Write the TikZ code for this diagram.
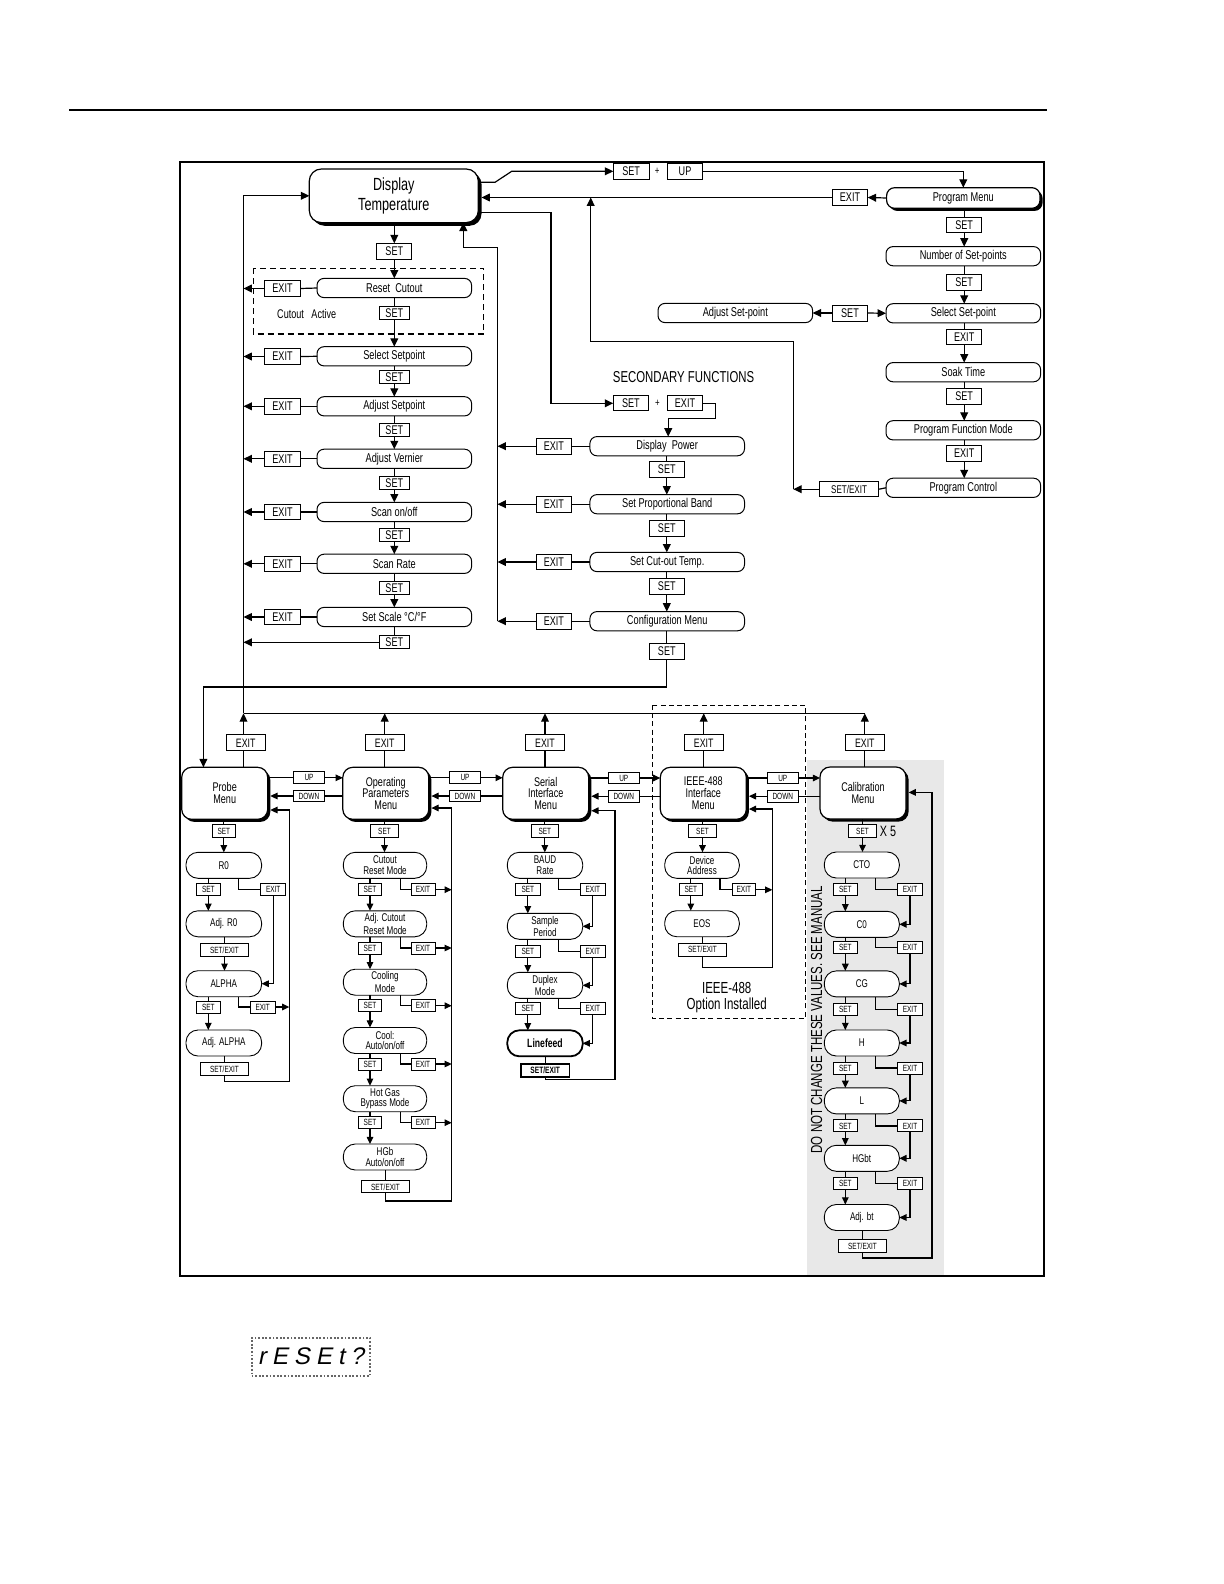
\documentclass[tikz,border=0pt]{standalone}
\usepackage{fontspec}
\setmainfont{Liberation Sans}[FakeStretch=0.72]
\newfontfamily\segfont{Liberation Sans}[FakeSlant=0.2]
\usetikzlibrary{arrows.meta,shadows}
\newcommand\myfs[2]{\fontsize{#1pt}{#2pt}\selectfont}
\tikzset{
  ln/.style={line width=0.6pt},
  arr/.style={line width=0.6pt,-{Triangle[length=4.2pt,width=3.9pt]}},
  sarr/.style={line width=0.55pt,-{Triangle[length=3.6pt,width=3.3pt]}},
  bx/.style={draw,line width=0.5pt,fill=white,inner sep=0pt,outer sep=0pt},
  pill/.style={bx,rounded corners=3.5pt,minimum width=77.3pt,minimum height=9.6pt,font=\myfs{6.4}{7}},
  kbox/.style={bx,minimum width=#1,minimum height=7.7pt,font=\myfs{6.3}{7}},
  skbox/.style={bx,minimum width=#1,minimum height=6pt,font=\myfs{4.5}{5}},
  tkey/.style={kbox=19.5pt,minimum height=8pt,font=\myfs{6.1}{7}},
  menu/.style={bx,line width=0.6pt,rounded corners=5pt,minimum width=43pt,minimum height=26pt,align=center,font=\myfs{6.3}{5.9}},
  shd/.style={drop shadow={shadow xshift=#1,shadow yshift=-#1,fill=black,opacity=1}},
  shd/.default=1.3pt,
  stad/.style={bx,line width=0.45pt,rounded corners=6pt,minimum width=#1,minimum height=13pt,align=center,font=\myfs{5.6}{5.2}},
}
\begin{document}
\begin{tikzpicture}[x=0.5pt,y=-0.5pt]
\useasboundingbox (0,0) rectangle (1224,1584);
\fill[white] (0,0) rectangle (1224,1584);
\draw[line width=0.6pt] (69,110) -- (1047,110);
\fill[black!9] (806.7,760.3) rectangle (943.5,1275);
\draw[line width=0.6pt] (180,162) rectangle (1044,1276);

\coordinate (lb) at (243.5,0);
\coordinate (rb) at (497.5,0);
\coordinate (bus) at (0,713.3);

% ---------- main column ----------
\node[menu,shd=1.6pt,minimum width=84.5pt,minimum height=26.8pt,rounded corners=6pt,font=\myfs{8.8}{10}] (dt) at (393.8,195.8) {Display\\Temperature};
\node[kbox=17.5pt,minimum height=8pt] (s0) at (394.3,251.3) {SET};
\draw[line width=0.6pt,dash pattern=on 3pt off 2pt] (253.3,268.3) rectangle (483.7,334);
\node[pill] (rc) at (394.3,288) {Reset\ \ Cutout};
\node[kbox=18pt] (erc) at (282.5,288.5) {EXIT};
\node[kbox=15pt,minimum height=6.4pt] (s1) at (394.3,313) {SET};
\node[font=\myfs{6.3}{7}] (cact) at (306.7,313.5) {Cutout\ \ \ Active};

\node[pill] (ss) at (394.3,356.3) {Select Setpoint};
\node[kbox=18pt] (ess) at (282.5,356.5) {EXIT};
\node[kbox=15pt,minimum height=6.4pt] (s2) at (394.3,377) {SET};
\node[pill] (as) at (394.3,406.3) {Adjust Setpoint};
\node[kbox=18pt] (eas) at (282.5,406.3) {EXIT};
\node[kbox=15pt,minimum height=6.4pt] (s3) at (394.3,430.3) {SET};
\node[pill] (av) at (394.3,458.8) {Adjust Vernier};
\node[kbox=18pt] (eav) at (282.5,458.8) {EXIT};
\node[kbox=15pt,minimum height=6.4pt] (s4) at (394.3,483) {SET};
\node[pill] (so) at (394.3,512) {Scan on/off};
\node[kbox=18pt] (eso) at (282.5,512) {EXIT};
\node[kbox=15pt,minimum height=6.4pt] (s5) at (394.3,535) {SET};
\node[pill] (sr) at (394.3,563.8) {Scan Rate};
\node[kbox=18pt] (esr) at (282.5,563.8) {EXIT};
\node[kbox=15pt,minimum height=6.4pt] (s6) at (394.3,587.7) {SET};
\node[pill] (sc) at (394.3,617) {Set Scale °C/°F};
\node[kbox=18pt] (esc) at (282.5,617) {EXIT};
\node[kbox=15pt,minimum height=6.4pt] (s7) at (394.3,642.3) {SET};

\draw[arr] (dt.south -| s0) -- (s0.north);
\draw[arr] (s0.south) -- (s0.south |- rc.north);
\draw[ln] (rc.south -| s1) -- (s1.north);
\draw[arr] (s1.south) -- (s1.south |- ss.north);
\draw[ln] (ss.south -| s2) -- (s2.north);
\draw[arr] (s2.south) -- (s2.south |- as.north);
\draw[ln] (as.south -| s3) -- (s3.north);
\draw[arr] (s3.south) -- (s3.south |- av.north);
\draw[ln] (av.south -| s4) -- (s4.north);
\draw[arr] (s4.south) -- (s4.south |- so.north);
\draw[ln] (so.south -| s5) -- (s5.north);
\draw[arr] (s5.south) -- (s5.south |- sr.north);
\draw[ln] (sr.south -| s6) -- (s6.north);
\draw[arr] (s6.south) -- (s6.south |- sc.north);
\draw[ln] (sc.south -| s7) -- (s7.north);
\draw[arr] (s7.west) -- (s7.west -| lb);
\foreach \n in {rc,ss,as,av,so,sr,sc}{
  \draw[ln] (\n.west) -- (e\n.east);
  \draw[arr] (e\n.west) -- (e\n.west -| lb);
}
\draw[arr] (lb |- bus) |- (dt.west);

% ---------- top: SET + UP, program menu ----------
\node[kbox=17.9pt,minimum height=8pt] (tse) at (631.2,171.3) {SET};
\node[font=\myfs{5.5}{6}] (tpl) at (657.3,171.3) {+};
\node[kbox=17.7pt,minimum height=8pt] (tup) at (685,171.3) {UP};
\coordinate (k3) at (495,182.3);
\coordinate (k3b) at (511.7,171.3);
\draw[arr] (dt.east |- k3) -- (k3) -- (k3b) -- (tse.west);

\node[menu,shd,minimum width=76.7pt,minimum height=10.3pt,rounded corners=4pt,font=\myfs{6.4}{7}] (pm) at (963.3,198) {Program Menu};
\draw[arr] (tup.east) -| (pm.north);
\node[kbox=17.7pt] (epm) at (850,197.5) {EXIT};
\node[kbox=17.5pt] (rs1) at (964.2,224.8) {SET};
\node[pill] (nsp) at (963.3,256.2) {Number of Set-points};
\node[kbox=17.5pt] (rs2) at (964.2,282.5) {SET};
\node[pill] (ssp) at (963.3,313.3) {Select Set-point};
\node[kbox=17.7pt,minimum height=8pt] (sas) at (850,313) {SET};
\node[pill] (asp) at (735.3,313) {Adjust Set-point};
\node[kbox=17.5pt] (re1) at (964.2,336.7) {EXIT};
\node[pill] (skt) at (963.3,372.2) {Soak Time};
\node[kbox=17.5pt] (rs3) at (964.2,396.3) {SET};
\node[pill] (pfm) at (963.3,430.3) {Program Function Mode};
\node[kbox=17.5pt] (re2) at (964.2,453.3) {EXIT};
\node[pill] (pcn) at (963.3,487.8) {Program Control};
\node[kbox=29.8pt,font=\myfs{5.6}{6}] (pse) at (849.1,489.2) {SET/EXIT};

\draw[arr] (pm.west) -- (epm.east);
\draw[arr] (epm.west) -- ([xshift=1.6pt]dt.east |- epm.west);
\draw[ln] (pm.south -| rs1) -- (rs1.north);
\draw[arr] (rs1.south) -- (rs1.south |- nsp.north);
\draw[ln] (nsp.south -| rs2) -- (rs2.north);
\draw[arr] (rs2.south) -- (rs2.south |- ssp.north);
\draw[arr] (sas.east) -- (ssp.west);
\draw[arr] (sas.west) -- (asp.east);
\draw[ln] (ssp.south -| re1) -- (re1.north);
\draw[arr] (re1.south) -- (re1.south |- skt.north);
\draw[ln] (skt.south -| rs3) -- (rs3.north);
\draw[arr] (rs3.south) -- (rs3.south |- pfm.north);
\draw[ln] (pfm.south -| re2) -- (re2.north);
\draw[arr] (re2.south) -- (re2.south |- pcn.north);
\draw[ln] (pcn.west) -- (pse.east);
\coordinate (k5) at (793.3,489.2);
\coordinate (k6) at (793.3,341.7);
\coordinate (k7) at (590.7,341.7);
\draw[arr] (pse.west) -- (k5);
\draw[arr] (k5) -- (k6) -- (k7) -- (k7 |- epm.west);

% ---------- secondary functions ----------
\node[font=\myfs{7.9}{9}] (secf) at (683.6,376.7) {SECONDARY FUNCTIONS};
\node[kbox=17.7pt,minimum height=7.4pt] (sfs) at (630.9,403.3) {SET};
\node[font=\myfs{5.5}{6}] (sfp) at (657.5,403.3) {+};
\node[kbox=17.5pt,minimum height=7.4pt] (sfe) at (685,403.3) {EXIT};
\coordinate (k1) at (551,212.3);
\draw[arr] (dt.east |- k1) -- (k1) |- (sfs.west);

\node[pill] (dp) at (667.2,446.2) {Display\ \ Power};
\node[kbox=17.5pt,minimum height=7.8pt] (edp) at (553.9,446.2) {EXIT};
\node[kbox=17.5pt,minimum height=7.8pt] (sdp) at (666.8,469.5) {SET};
\node[pill] (pb) at (667.2,504.2) {Set Proportional Band};
\node[kbox=17.5pt,minimum height=7.8pt] (epb) at (553.9,504.2) {EXIT};
\node[kbox=17.5pt,minimum height=7.8pt] (spb) at (666.8,528.5) {SET};
\node[pill] (ctt) at (667.2,562) {Set Cut-out Temp.};
\node[kbox=17.5pt,minimum height=7.8pt] (ectt) at (553.9,562) {EXIT};
\node[kbox=17.5pt,minimum height=7.8pt] (sct) at (666.8,586.5) {SET};
\node[pill] (cfm) at (667.2,621.2) {Configuration Menu};
\node[kbox=17.5pt,minimum height=7.8pt] (ecfm) at (553.9,621.2) {EXIT};
\node[kbox=17.5pt,minimum height=7.8pt] (scm) at (666.8,651.3) {SET};

\coordinate (k2) at (668.2,418.3);
\draw[arr] (sfe.east) -| (715.7,418.3) -- (k2) -- (k2 |- dp.north);
\draw[ln] (dp.south -| sdp) -- (sdp.north);
\draw[arr] (sdp.south) -- (sdp.south |- pb.north);
\draw[ln] (pb.south -| spb) -- (spb.north);
\draw[arr] (spb.south) -- (spb.south |- ctt.north);
\draw[ln] (ctt.south -| sct) -- (sct.north);
\draw[arr] (sct.south) -- (sct.south |- cfm.north);
\draw[ln] (cfm.south -| scm) -- (scm.north);
\foreach \n in {dp,pb,ctt,cfm}{
  \draw[ln] (\n.west) -- (e\n.east);
  \draw[arr] (e\n.west) -- (e\n.west -| rb);
}
\coordinate (k8) at (463.3,247.3);
\draw[arr] (rb |- ecfm.west) -- (rb |- k8) -- (k8) -- (k8 |- dt.south);

% ---------- lower menus ----------
\node[menu,shd] (pr) at (224.7,793.3) {Probe\\Menu};
\node[menu,shd] (op) at (385.8,793.3) {Operating\\Parameters\\Menu};
\node[menu,shd] (si) at (545.7,793.3) {Serial\\Interface\\Menu};
\node[menu,shd] (ie) at (703.3,793.3) {IEEE-488\\Interface\\Menu};
\node[menu,shd] (cal) at (863,793) {Calibration\\Menu};

\node[tkey] (xe1) at (245.7,742.8) {EXIT};
\node[tkey] (xe2) at (384.7,742.8) {EXIT};
\node[tkey] (xe3) at (545,742.8) {EXIT};
\node[tkey] (xe4) at (703.7,742.8) {EXIT};
\node[tkey] (xe5) at (864.8,742.8) {EXIT};

\draw[ln] (lb |- bus) -- (xe5 |- bus);
\draw[ln] (lb |- pr.north) -- (lb |- xe1.south);
\draw[arr] (lb |- xe1.north) -- (lb |- bus);
\draw[ln] (op.north -| xe2) -- (xe2.south);
\draw[arr] (xe2.north) -- (xe2.north |- bus);
\draw[ln] (si.north -| xe3) -- (xe3.south);
\draw[arr] (xe3.north) -- (xe3.north |- bus);
\draw[ln] (ie.north -| xe4) -- (xe4.south);
\draw[arr] (xe4.north) -- (xe4.north |- bus);
\draw[ln] (cal.north -| xe5) -- (xe5.south);
\draw[arr] (xe5.north) -- (xe5.north |- bus);

\coordinate (k4) at (203.4,687);
\draw[arr] (scm.south) |- (k4) -- (k4 |- pr.north);

% UP / DOWN
\node[skbox=15.5pt,minimum height=5.9pt] (u1) at (309,777.8) {UP};
\node[skbox=15.5pt,minimum height=5.9pt] (d1) at (309,796) {DOWN};
\node[skbox=15.5pt,minimum height=5.9pt] (u2) at (465,777.8) {UP};
\node[skbox=15.5pt,minimum height=5.9pt] (d2) at (465,796) {DOWN};
\node[skbox=15.5pt,minimum height=5.9pt] (u3) at (623.8,778) {UP};
\node[skbox=15.5pt,minimum height=5.9pt] (d3) at (623.8,796.2) {DOWN};
\node[skbox=15.5pt,minimum height=5.9pt] (u4) at (782.8,778) {UP};
\node[skbox=15.5pt,minimum height=5.9pt] (d4) at (782.8,796.2) {DOWN};
\draw[ln] (pr.east |- u1) -- (u1.west);  \draw[sarr] (u1.east) -- (op.west |- u1);
\draw[ln] (op.west |- d1) -- (d1.east);  \draw[sarr] (d1.west) -- ([xshift=1.3pt]pr.east |- d1);
\draw[ln] (op.east |- u2) -- (u2.west);  \draw[sarr] (u2.east) -- (si.west |- u2);
\draw[ln] (si.west |- d2) -- (d2.east);  \draw[sarr] (d2.west) -- ([xshift=1.3pt]op.east |- d2);
\draw[ln] (si.east |- u3) -- (u3.west);  \draw[sarr] (u3.east) -- (ie.west |- u3);
\draw[ln] (ie.west |- d3) -- (d3.east);  \draw[sarr] (d3.west) -- ([xshift=1.3pt]si.east |- d3);
\draw[ln] (ie.east |- u4) -- (u4.west);  \draw[sarr] (u4.east) -- (cal.west |- u4);
\draw[ln] (cal.west |- d4) -- (d4.east); \draw[sarr] (d4.west) -- ([xshift=1.3pt]ie.east |- d4);

% ---------- Probe column ----------
\node[skbox=11.5pt,minimum height=6.2pt] (pset0) at (223.8,831) {SET};
\node[stad=37.8pt] (r0) at (223.8,865.3) {R0};
\node[skbox=12pt] (pst1) at (208.3,889.7) {SET};
\node[skbox=12.5pt] (pex1) at (273.2,889.7) {EXIT};
\node[stad=37.8pt] (ar0) at (223.8,923.8) {Adj. R0};
\node[skbox=24.2pt,minimum height=6.5pt] (pse1) at (224.5,950.2) {SET/EXIT};
\node[stad=37.8pt] (alp) at (223.8,983.7) {ALPHA};
\node[skbox=12pt] (pst2) at (208.3,1007) {SET};
\node[skbox=12.4pt] (pex2) at (262.7,1007) {EXIT};
\node[stad=37.8pt] (aal) at (223.8,1043) {Adj. ALPHA};
\node[skbox=24.2pt,minimum height=6.5pt] (pse2) at (224.5,1068.8) {SET/EXIT};
\coordinate (pbx) at (238.3,0);
\coordinate (plx) at (289.3,810);
\coordinate (plb) at (289.3,1081.7);
\draw[ln] (pr.south -| pset0) -- (pset0.north);
\draw[sarr] (pset0.south) -- (pset0.south |- r0.north);
\draw[ln] (r0.south -| pst1) -- (pst1.north);
\draw[sarr] (pst1.south) -- (pst1.south |- ar0.north);
\draw[ln] (pbx |- r0.south) |- (pex1.west);
\draw[sarr] (pex1.south) |- (alp.east);
\draw[ln] (ar0.south -| pse1) -- (pse1.north);
\draw[sarr] (pse1.south) -- (pse1.south |- alp.north);
\draw[ln] (alp.south -| pst2) -- (pst2.north);
\draw[sarr] (pst2.south) -- (pst2.south |- aal.north);
\draw[ln] (pbx |- alp.south) |- (pex2.west);
\draw[sarr] (pex2.east) -- (pex2.east -| plx);
\draw[ln] (aal.south -| pse2) -- (pse2.north);
\draw[sarr] (pse2.south) |- (plb) -- (plx) -- ([xshift=1.3pt]plx -| pr.east);

% ---------- Operating parameters column ----------
\node[skbox=14.2pt,minimum height=6.2pt] (oset0) at (384.5,831) {SET};
\node[stad=41.7pt] (o1) at (385,865.3) {Cutout\\Reset Mode};
\node[stad=41.7pt] (o2) at (385,923.8) {Adj. Cutout\\Reset Mode};
\node[stad=41.7pt] (o3) at (385,982.2) {Cooling\\Mode};
\node[stad=41.7pt] (o4) at (385,1040.5) {Cool:\\Auto/on/off};
\node[stad=41.7pt] (o5) at (385,1098.7) {Hot Gas\\Bypass Mode};
\node[stad=41.7pt] (o6) at (385,1157) {HGb\\Auto/on/off};
\foreach \i/\y in {1/889.7,2/948,3/1005.7,4/1064,5/1122.7}{
  \node[skbox=11.3pt] (ost\i) at (370,\y) {SET};
  \node[skbox=12pt] (oex\i) at (423,\y) {EXIT};
}
\node[skbox=23.8pt,minimum height=5.9pt] (ose) at (385.5,1186.8) {SET/EXIT};
\coordinate (obx) at (400.3,0);
\coordinate (olx) at (451.7,808);
\coordinate (olb) at (451.7,1201);
\draw[ln] (op.south -| oset0) -- (oset0.north);
\draw[sarr] (oset0.south) -- (oset0.south |- o1.north);
\foreach \i/\j in {1/2,2/3,3/4,4/5,5/6}{
  \draw[ln] (o\i.south -| ost\i) -- (ost\i.north);
  \draw[sarr] (ost\i.south) -- (ost\i.south |- o\j.north);
  \draw[ln] (obx |- o\i.south) |- (oex\i.west);
  \draw[sarr] (oex\i.east) -- (oex\i.east -| olx);
}
\draw[ln] (o6.south -| ose) -- (ose.north);
\draw[sarr] (ose.south) |- (olb) -- (olx) -- ([xshift=1.3pt]olx -| op.east);

% ---------- Serial column ----------
\node[skbox=13.8pt,minimum height=6.2pt] (sset0) at (544.8,831) {SET};
\node[stad=37.7pt] (b1) at (545,865.3) {BAUD\\Rate};
\node[stad=37.7pt] (b2) at (545,926.3) {Sample\\Period};
\node[stad=37.7pt] (b3) at (545,985.3) {Duplex\\Mode};
\node[stad=37.7pt,line width=0.9pt,font=\myfs{6}{6}\bfseries] (b4) at (545,1043.3) {Linefeed};
\foreach \i/\y in {1/889.8,2/951.5,3/1008.2}{
  \node[skbox=12.2pt] (bst\i) at (527.8,\y) {SET};
  \node[skbox=12.8pt] (bex\i) at (592.8,\y) {EXIT};
}
\node[skbox=24.2pt,minimum height=6.4pt,line width=0.8pt,font=\myfs{4.6}{5}\bfseries] (bse) at (545.2,1070.3) {SET/EXIT};
\coordinate (bbx) at (558.3,0);
\coordinate (blx) at (615,810.7);
\coordinate (blb) at (615,1079.7);
\draw[ln] (si.south -| sset0) -- (sset0.north);
\draw[sarr] (sset0.south) -- (sset0.south |- b1.north);
\foreach \i/\j in {1/2,2/3,3/4}{
  \draw[ln] (b\i.south -| bst\i) -- (bst\i.north);
  \draw[sarr] (bst\i.south) -- (bst\i.south |- b\j.north);
  \draw[ln] (bbx |- b\i.south) |- (bex\i.west);
  \draw[sarr] (bex\i.south) |- (b\j.east);
}
\draw[ln] (b4.south -| bse) -- (bse.north);
\draw[sarr] (bse.south) |- (blb) -- (blx) -- ([xshift=1.3pt]blx -| si.east);

% ---------- IEEE column ----------
\draw[line width=0.5pt,dash pattern=on 2.5pt off 1.6pt] (652.7,705) rectangle (805,1018.3);
\node[skbox=14.2pt,minimum height=6.2pt] (iset0) at (702.5,831) {SET};
\node[stad=37.3pt] (i1) at (702,865.3) {Device\\Address};
\node[skbox=11.8pt] (ist1) at (690.8,889.8) {SET};
\node[skbox=11.5pt] (iex1) at (743.8,889.8) {EXIT};
\node[stad=37.3pt] (i2) at (702,923.7) {EOS};
\node[skbox=24.2pt,minimum height=6.4pt] (ise) at (702.5,949.7) {SET/EXIT};
\node[align=center,font=\myfs{8}{7.8}] (iopt) at (726.7,997.5) {IEEE-488\\Option Installed};
\coordinate (ibx) at (720,0);
\coordinate (ilx) at (772.3,809);
\coordinate (ilb) at (772.3,967.3);
\draw[ln] (ie.south -| iset0) -- (iset0.north);
\draw[sarr] (iset0.south) -- (iset0.south |- i1.north);
\draw[ln] (i1.south -| ist1) -- (ist1.north);
\draw[sarr] (ist1.south) -- (ist1.south |- i2.north);
\draw[ln] (ibx |- i1.south) |- (iex1.west);
\draw[sarr] (iex1.east) -- (iex1.east -| ilx);
\draw[ln] (i2.south -| ise) -- (ise.north);
\draw[sarr] (ise.south) |- (ilb) -- (ilx) -- ([xshift=1.3pt]ilx -| ie.east);

% ---------- Calibration column ----------
\node[skbox=14.2pt,minimum height=6.5pt] (cset0) at (862.5,831) {SET};
\node[font=\myfs{7.5}{8}] (xfive) at (888,831) {X 5};
\node[stad=37.5pt] (c1) at (861.8,865) {CTO};
\node[stad=37.5pt] (c2) at (861.8,924.3) {C0};
\node[stad=37.5pt] (c3) at (861.8,983.9) {CG};
\node[stad=37.5pt] (c4) at (861.8,1043) {H};
\node[stad=37.5pt] (c5) at (861.8,1100.9) {L};
\node[stad=37.5pt] (c6) at (861.8,1158.3) {HGbt};
\node[stad=37.5pt] (c7) at (861.8,1217.5) {Adj. bt};
\foreach \i/\y in {1/889.6,2/947.8,3/1009.3,4/1068,5/1125.9,6/1183.4}{
  \node[skbox=12pt] (cst\i) at (845.3,\y) {SET};
  \node[skbox=12.7pt] (cex\i) at (910,\y) {EXIT};
}
\node[skbox=24.2pt,minimum height=6.3pt] (cse) at (862.5,1246) {SET/EXIT};
\coordinate (cbx) at (875.7,0);
\coordinate (clx) at (932,792.4);
\coordinate (clb) at (932,1258);
\draw[ln] (cal.south -| cset0) -- (cset0.north);
\draw[sarr] (cset0.south) -- (cset0.south |- c1.north);
\foreach \i/\j in {1/2,2/3,3/4,4/5,5/6,6/7}{
  \draw[ln] (c\i.south -| cst\i) -- (cst\i.north);
  \draw[sarr] (cst\i.south) -- (cst\i.south |- c\j.north);
  \draw[ln] (cbx |- c\i.south) |- (cex\i.west);
  \draw[sarr] (cex\i.south) |- (c\j.east);
}
\draw[ln] (c7.south -| cse) -- (cse.north);
\draw[sarr] (cse.south) |- (clb) -- (clx) -- ([xshift=1.3pt]clx -| cal.east);
\node[rotate=90,font=\myfs{8}{9}] (dnc) at (816.7,1019.7) {DO NOT CHANGE THESE VALUES. SEE MANUAL};

% ---------- reset display ----------
\node[draw=black!60,line width=0.9pt,dash pattern=on 0.9pt off 0.9pt,minimum width=59.2pt,minimum height=19pt,inner sep=0pt,font=\segfont\myfs{12}{12}] (rst) at (310.8,1356.7) {r\hspace{3pt}E\hspace{3pt}S\hspace{3pt}E\hspace{3pt}t\hspace{3pt}?};
\end{tikzpicture}
\end{document}
